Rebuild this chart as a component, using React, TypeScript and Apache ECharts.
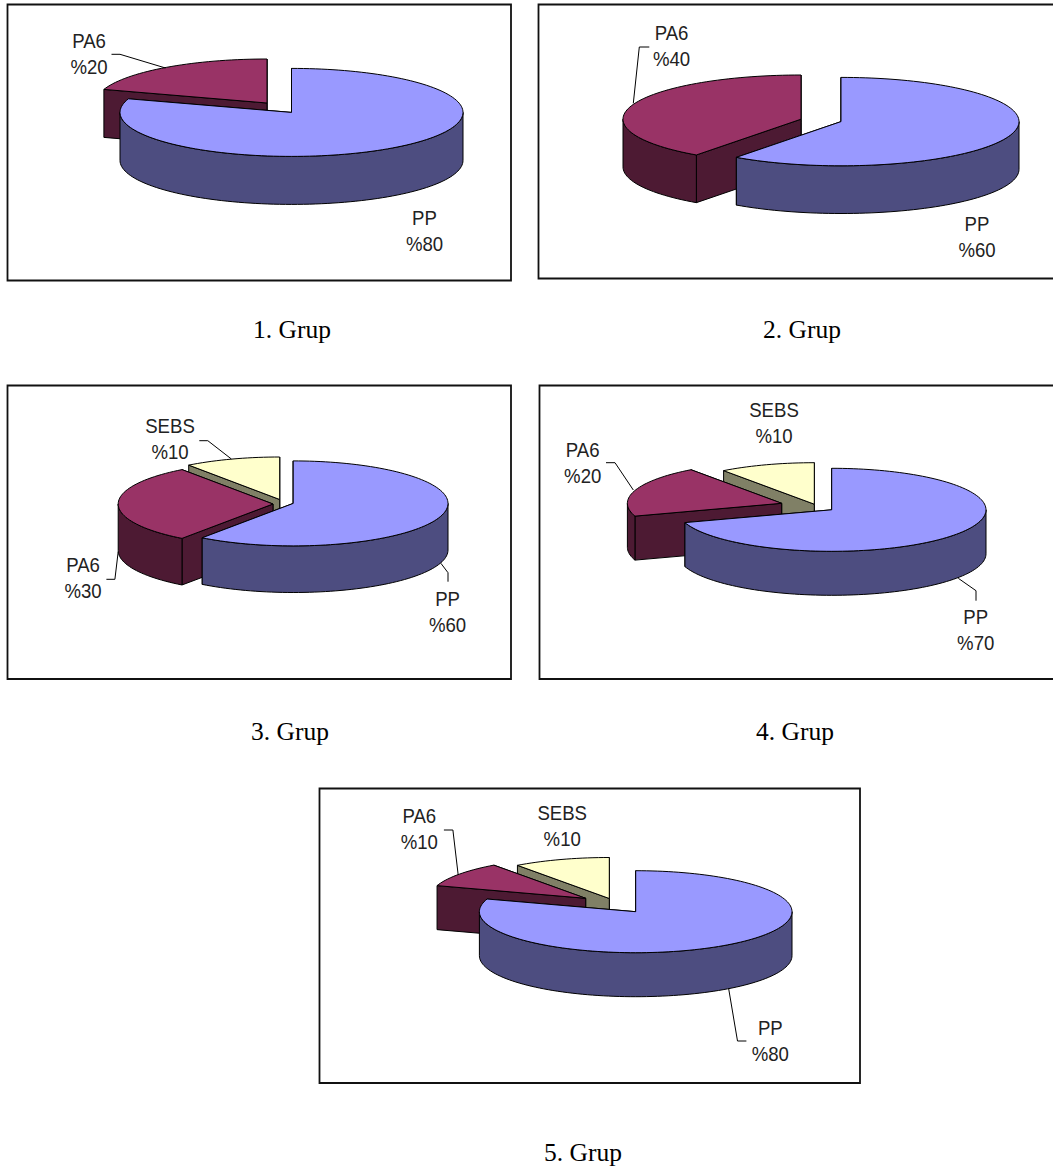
import React, { useEffect, useRef } from "react";
import * as echarts from "echarts";

// Blend composition of each group, in percent, clockwise from twelve o'clock.
const groupNames = ["1. Grup", "2. Grup", "3. Grup", "4. Grup", "5. Grup"];
const materials = ["PP", "PA6", "SEBS"];
const ppValues = [80, 60, 60, 70, 80];
const pa6Values = [20, 40, 30, 20, 10];
const sebsValues = [0, 0, 10, 10, 10];

const topColors = ["#9999FF", "#993366", "#FFFFCC"];
const sideColors = ["#4D4D80", "#4D1A33", "#808066"];

type Pt = [number, number];
interface PanelLayout {
  frame: [number, number, number, number];
  caption: Pt;
  rx: number;
  ry: number;
  depth: number;
  centers: Pt[]; // apex of the PP, PA6 and SEBS wedges
  labels: Pt[];
  leaders: Pt[][];
}

const panels: PanelLayout[] = [
  {
    frame: [7.5, 4.5, 503.5, 276],
    caption: [292, 329],
    rx: 171.5, ry: 44, depth: 48,
    centers: [[291.5, 112.4], [267, 103]],
    labels: [[424.5, 231], [89, 54.7]],
    leaders: [[], [[111.5, 54.3], [120, 54.3], [165.5, 68]]],
  },
  {
    frame: [538.5, 4.5, 520, 274],
    caption: [802, 329],
    rx: 178, ry: 44.2, depth: 47.7,
    centers: [[841, 121.6], [801, 119.2]],
    labels: [[977, 237.5], [671.5, 46.7]],
    leaders: [[], [[649.3, 47], [639.3, 47], [633.3, 103.3]]],
  },
  {
    frame: [7.5, 385.5, 503.5, 293.5],
    caption: [290, 731],
    rx: 154.8, ry: 42.5, depth: 46.6,
    centers: [[293.2, 503.4], [273, 504], [279.7, 499.5]],
    labels: [[447.6, 612], [83, 578.3], [170, 439.5]],
    leaders: [
      [[440.9, 563.3], [448, 572.7], [448, 581.7]],
      [[106.4, 579.3], [114.9, 579.3], [118.2, 551.7]],
      [[199.3, 440.7], [207.8, 440.7], [231.4, 459]],
    ],
  },
  {
    frame: [539.5, 385.5, 520, 293.5],
    caption: [795, 731],
    rx: 154.3, ry: 41.5, depth: 44,
    centers: [[831.7, 509.8], [781.7, 503.3], [814.3, 504.2]],
    labels: [[975.7, 630], [582.7, 463.7], [774, 423.7]],
    leaders: [
      [[958.3, 578.3], [976, 590.7], [976, 600.7]],
      [[606, 462.7], [615, 462.7], [633.3, 490]],
      [],
    ],
  },
  {
    frame: [319.5, 788.5, 540.5, 294.5],
    caption: [583, 1152],
    rx: 156.3, ry: 41, depth: 44,
    centers: [[635.7, 911.7], [585.7, 898.3], [609.3, 898.5]],
    labels: [[770.3, 1041], [419.3, 829.2], [562.2, 826.3]],
    leaders: [
      [[728.6, 988.3], [737.5, 1041], [746.4, 1041]],
      [[443.9, 830], [452.9, 830], [458.2, 875]],
      [],
    ],
  },
];

const valuesOf = (g: number) => [ppValues[g], pa6Values[g], sebsValues[g]];

// Rear wedges come first so the nearer ones paint over them.
const sliceRows: number[][] = [];
groupNames.forEach((_, g) => {
  [2, 1, 0].forEach((s) => {
    const v = valuesOf(g)[s];
    if (v > 0) sliceRows.push([g, s, v]);
  });
});

const arcPoints = (c: Pt, rx: number, ry: number, from: number, to: number): Pt[] => {
  const out: Pt[] = [];
  const steps = Math.max(2, Math.ceil((to - from) / 2));
  for (let i = 0; i <= steps; i++) {
    const a = ((from + ((to - from) * i) / steps) * Math.PI) / 180;
    out.push([c[0] + rx * Math.sin(a), c[1] - ry * Math.cos(a)]);
  }
  return out;
};

const edgeStyle = (fill: string) => ({ fill, stroke: "#000", lineWidth: 1, lineJoin: "round" });

const renderSlice = (_: unknown, api: any) => {
  const g = api.value(0) as number;
  const s = api.value(1) as number;
  const p = panels[g];
  const vals = valuesOf(g);
  const start = (vals.slice(0, s).reduce((a, b) => a + b, 0) / 100) * 360;
  const end = start + (vals[s] / 100) * 360;
  const c = p.centers[s];
  const { rx, ry, depth } = p;
  const outer = arcPoints(c, rx, ry, start, end);
  const first = outer[0];
  const last = outer[outer.length - 1];
  const below = (q: Pt): Pt => [q[0], q[1] + depth];
  const children: any[] = [];
  const face = (q: Pt) => ({
    type: "polygon",
    shape: { points: [c, q, below(q), below(c)] },
    style: edgeStyle(sideColors[s]),
  });
  children.push(face(last), face(first));
  const wallFrom = Math.max(start, 90);
  const wallTo = Math.min(end, 270);
  if (wallTo > wallFrom) {
    const rim = arcPoints(c, rx, ry, wallFrom, wallTo);
    children.push({
      type: "polygon",
      shape: { points: [...rim, ...rim.slice().reverse().map(below)] },
      style: edgeStyle(sideColors[s]),
    });
  }
  children.push({
    type: "polygon",
    shape: { points: [c, ...outer] },
    style: edgeStyle(topColors[s]),
  });
  const leader = p.leaders[s];
  if (leader && leader.length) {
    children.push({
      type: "polyline",
      shape: { points: leader },
      style: { fill: "none", stroke: "#000", lineWidth: 1 },
    });
  }
  const at = p.labels[s];
  children.push({
    type: "text",
    x: at[0],
    y: at[1],
    scaleX: 0.93,
    style: {
      text: `${materials[s]}\n%${vals[s]}`,
      fontFamily: "Liberation Sans",
      fontSize: 20,
      lineHeight: 26,
      fill: "#222",
      align: "center",
      verticalAlign: "middle",
    },
  });
  return { type: "group", children };
};

export default function App() {
  const ref = useRef<HTMLDivElement>(null);
  useEffect(() => {
    const chart = echarts.init(ref.current!, null, { renderer: "svg" });
    chart.setOption({
      animation: false,
      backgroundColor: "#fff",
      graphic: panels.flatMap((p, g) => [
        {
          type: "rect",
          shape: { x: p.frame[0], y: p.frame[1], width: p.frame[2], height: p.frame[3] },
          style: { fill: "#fff", stroke: "#111", lineWidth: 1.8 },
          z: -1,
        },
        {
          type: "text",
          x: p.caption[0],
          y: p.caption[1],
          style: {
            text: groupNames[g],
            fontFamily: "Liberation Serif",
            fontSize: 25.5,
            fill: "#000",
            align: "center",
            verticalAlign: "middle",
          },
        },
      ]),
      series: [
        {
          type: "custom",
          coordinateSystem: "none",
          silent: true,
          data: sliceRows,
          renderItem: renderSlice,
          z: 5,
        },
      ],
    });
    return () => chart.dispose();
  }, []);
  return (
    <div
      ref={ref}
      style={{ position: "absolute", left: 0, top: 0, width: 1053, height: 1167, overflow: "hidden" }}
    />
  );
}
